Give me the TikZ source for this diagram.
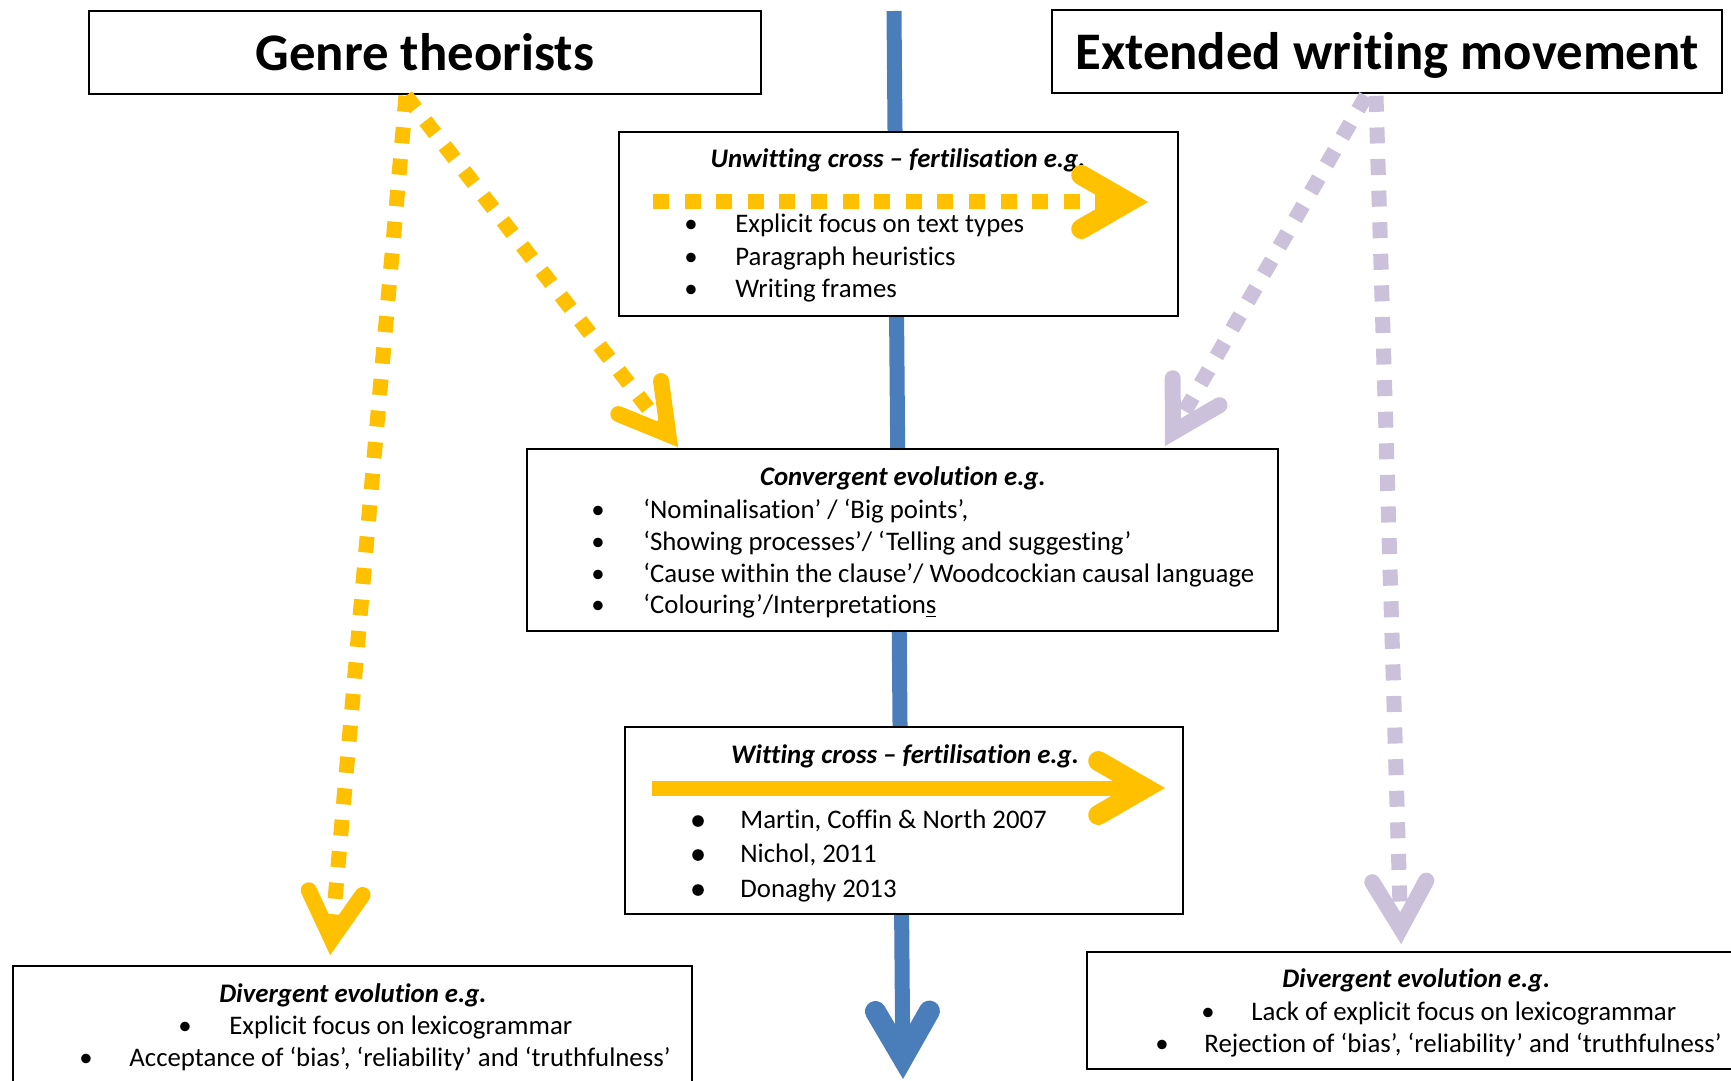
\documentclass[tikz,border=0pt]{standalone}
\usepackage{fontspec}
\setmainfont{Carlito}[Ligatures=NoCommon]
\usetikzlibrary{calc,fit}
\definecolor{gold}{HTML}{FFC000}
\definecolor{lilac}{HTML}{CCC1DA}
\definecolor{steel}{HTML}{4A7EBB}
\tikzset{
  box/.style={draw=black, line width=0.85pt, fill=white, inner sep=0pt},
  headline/.style={font=\fontsize{26.4}{30}\selectfont\bfseries, anchor=base, inner sep=0pt},
  boxtitle/.style={font=\fontsize{13.4}{16}\selectfont\bfseries\itshape, anchor=base, inner sep=0pt},
  item/.style={font=\fontsize{13.4}{16}\selectfont, anchor=base west, inner sep=0pt},
  dot/.style={font=\fontsize{13.4}{16}\selectfont, anchor=base, inner sep=0pt},
  bigdot/.style={circle, fill=black, inner sep=0pt, minimum size=5.8pt},
  flow/.style={line width=7.5pt},
  dotflow/.style={flow, dash pattern=on 8pt off 7.8pt},
  barb/.style={solid, line cap=round, line join=miter},
}
% shaft from #3 towards #4, closed by an open chevron (arms of line width #1)
% whose mitred point lies exactly on #4; with 30 degree arms the mitre
% reaches one line width beyond the corner
\newcommand\flowarrow[4][7.5pt]{%
  \coordinate (#4-v) at ($(#4)!#1!(#3)$);
  \draw[#2] (#3) -- (#4-v);
  \draw[#2, barb, line width=#1] ($(#4-v)!27pt!30:(#3)$) -- (#4-v) -- ($(#4-v)!27pt!-30:(#3)$);
}
\begin{document}
\begin{tikzpicture}[x=0.5pt, y=-0.5pt]
\useasboundingbox (0,0) rectangle (1731,1081);

% central time line
\coordinate (spine-top) at (894,11);
\coordinate (spine-end) at (903,1079);
\flowarrow[10.5pt]{steel, flow}{spine-top}{spine-end}

% frames
\node[box, fit={(89,11) (761,94)}] (gt) {};
\node[box, fit={(1052,10) (1722,93)}] (ewm) {};
\node[box, fit={(619,132) (1178,316)}] (uw) {};
\node[box, fit={(527,449) (1278,631)}] (cv) {};
\node[box, fit={(625,727) (1183,914)}] (wt) {};
\node[box, fit={(13,966) (692,1100)}] (dl) {};
\node[box, fit={(1087,952) (1750,1069)}] (dr) {};

% headings
\node[headline] (gt-t) at (425,71) {Genre theorists};
\node[headline] (ewm-t) at (1387,70) {Extended writing movement};

% unwitting cross-fertilisation
\node[boxtitle] (uw-t) at (898,168) {Unwitting cross – fertilisation e.g.};
\coordinate (uw-from) at (653,202);
\coordinate (uw-to) at (1148,202);
\flowarrow[10pt]{gold, dotflow}{uw-from}{uw-to}
\node[dot] (uw-d1) at (691,233) {•};
\node[item] (uw-1) at (735,233) {Explicit focus on text types};
\node[dot] (uw-d2) at (691,265) {•};
\node[item] (uw-2) at (735,265) {Paragraph heuristics};
\node[dot] (uw-d3) at (691,297) {•};
\node[item] (uw-3) at (735,297) {Writing frames};

% convergent evolution
\node[boxtitle] (cv-t) at (903,485) {Convergent evolution e.g.};
\node[dot] (cv-d1) at (598,518) {•};
\node[item] (cv-1) at (643,518) {‘Nominalisation’ / ‘Big points’,};
\node[dot] (cv-d2) at (598,550) {•};
\node[item] (cv-2) at (643,550) {‘Showing processes’/ ‘Telling and suggesting’};
\node[dot] (cv-d3) at (598,582) {•};
\node[item] (cv-3) at (643,582) {‘Cause within the clause’/ Woodcockian causal language};
\node[dot] (cv-d4) at (598,613) {•};
\node[item] (cv-4) at (643,613) {‘Colouring’/Interpretation\underline{s}};

% witting cross-fertilisation
\node[boxtitle] (wt-t) at (905,763) {Witting cross – fertilisation e.g.};
\coordinate (wt-from) at (652,788);
\coordinate (wt-to) at (1165,788);
\flowarrow[10pt]{gold, flow}{wt-from}{wt-to}
\node[bigdot] (wt-d1) at (698,821) {};
\node[item] (wt-1) at (740,828) {Martin, Coffin \& North 2007};
\node[bigdot] (wt-d2) at (698,855) {};
\node[item] (wt-2) at (740,862) {Nichol, 2011};
\node[bigdot] (wt-d3) at (698,890) {};
\node[item] (wt-3) at (740,897) {Donaghy 2013};

% divergent evolution, genre side
\node[boxtitle] (dl-t) at (353,1002) {Divergent evolution e.g.};
\node[dot] (dl-d1) at (185,1034) {•};
\node[item] (dl-1) at (229,1034) {Explicit focus on lexicogrammar};
\node[dot] (dl-d2) at (86,1066) {•};
\node[item] (dl-2) at (129,1066) {Acceptance of ‘bias’, ‘reliability’ and ‘truthfulness’};

% divergent evolution, extended writing side
\node[boxtitle] (dr-t) at (1416,987) {Divergent evolution e.g\textup{.}};
\node[dot] (dr-d1) at (1208,1020) {•};
\node[item] (dr-1) at (1251,1020) {Lack of explicit focus on lexicogrammar};
\node[dot] (dr-d2) at (1162,1052) {•};
\node[item] (dr-2) at (1204,1052) {Rejection of ‘bias’, ‘reliability’ and ‘truthfulness’};

% influence arrows
\coordinate (gt-out) at ($(gt.south)+(-19,1)$);
\coordinate (ewm-out1) at ($(ewm.south)+(-21,2)$);
\coordinate (ewm-out2) at ($(ewm.south)+(-11,2)$);
\coordinate (cv-in1) at ($(cv.north west)+(152,-1)$);
\coordinate (cv-in2) at ($(cv.north east)+(-114,-2)$);
\coordinate (dl-in) at ($(dl.north west)+(318,-10)$);
\coordinate (dr-in) at ($(dr.north west)+(315,-7)$);
\flowarrow[8pt]{gold, dotflow}{gt-out}{cv-in1}
\flowarrow[8pt]{gold, dotflow}{gt-out}{dl-in}
\flowarrow[8pt]{lilac, dotflow}{ewm-out1}{cv-in2}
\flowarrow[8pt]{lilac, dotflow}{ewm-out2}{dr-in}
\end{tikzpicture}
\end{document}
